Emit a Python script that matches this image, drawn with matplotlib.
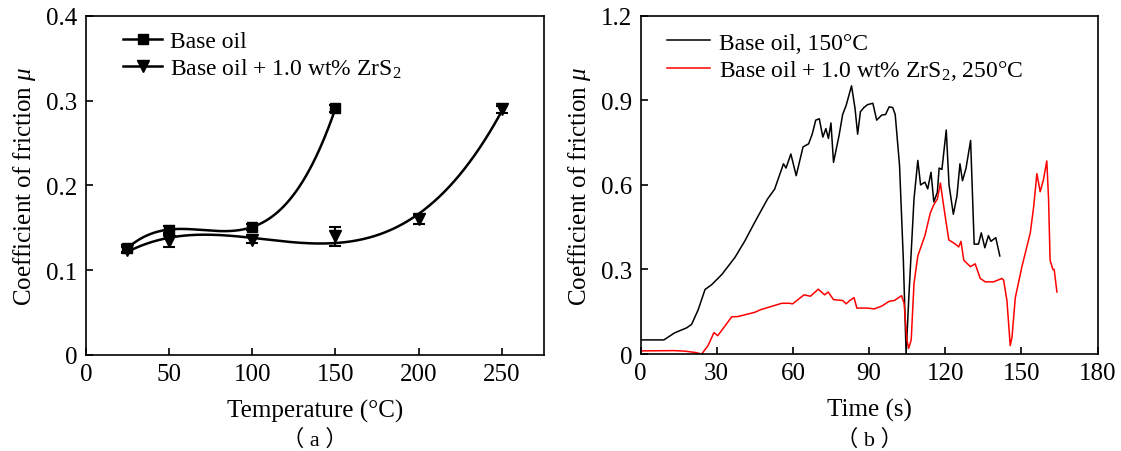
import numpy as np
import matplotlib
import matplotlib.pyplot as plt

matplotlib.use('Agg')

plt.rcParams['font.family'] = ['Liberation Serif', 'Noto Sans CJK SC']
plt.rcParams['mathtext.fontset'] = 'custom'
plt.rcParams['mathtext.rm'] = 'Liberation Serif'
plt.rcParams['mathtext.it'] = 'Liberation Serif:italic'

# (a) coefficient of friction vs temperature
temp_base = [25, 50, 100, 150]
mu_base = [0.126, 0.148, 0.151, 0.291]
err_base = [0.004, 0.004, 0.003, 0.004]

temp_zrs2 = [25, 50, 100, 150, 200, 250]
mu_zrs2 = [0.124, 0.135, 0.136, 0.140, 0.160, 0.290]
err_zrs2 = [0.004, 0.007, 0.004, 0.011, 0.005, 0.004]

# (b) friction traces over time
t_base = [0, 9.2, 13.4, 18.2, 20.1, 22.7, 25.4, 28, 32, 37.2, 41, 45, 50, 52.8,
          56.3, 57.3, 59.2, 61.3, 64, 66.2, 67.6, 69, 70.4, 71.8, 73, 74, 75, 76,
          78.2, 79.6, 81, 83.1, 84.5, 85.5, 86.6, 88, 89.4, 91.5, 93, 95, 96.5,
          97.9, 99.3, 100.3, 102, 103.5, 104.6, 105.6, 107.7, 109.2, 110.3, 112,
          113.1, 114.4, 115.5, 116.9, 117.6, 118.7, 120.4, 121.5, 123.2, 124.6,
          125.8, 126.8, 128.2, 130, 131.4, 133.1, 134.2, 135.6, 137, 138, 139.9,
          141.5]
mu_t_base = [0.05, 0.05, 0.075, 0.093, 0.105, 0.157, 0.229, 0.246, 0.282, 0.343,
             0.40, 0.468, 0.55, 0.585, 0.675, 0.66, 0.71, 0.633, 0.735, 0.746,
             0.78, 0.83, 0.835, 0.77, 0.80, 0.765, 0.82, 0.68, 0.776, 0.85, 0.883,
             0.952, 0.87, 0.78, 0.86, 0.875, 0.885, 0.89, 0.83, 0.848, 0.85, 0.877,
             0.875, 0.85, 0.67, 0.335, 0.0, 0.19, 0.55, 0.687, 0.60, 0.61, 0.586,
             0.645, 0.54, 0.574, 0.66, 0.655, 0.795, 0.60, 0.496, 0.56, 0.675,
             0.615, 0.66, 0.758, 0.39, 0.39, 0.43, 0.377, 0.42, 0.40, 0.413, 0.348]

t_zrs2 = [0, 13.4, 17.6, 21.8, 24.1, 26.6, 28.9, 30.4, 33.3, 35.9, 38.4, 45,
          47.2, 55.6, 58.5, 59.9, 62, 64.4, 66.9, 70, 72.5, 73.9, 76, 79.6, 81,
          82.4, 84.1, 85.2, 89.4, 92, 95, 97.9, 100, 102.8, 103.8, 104.9, 105.6,
          106.6, 107.7, 109.2, 112, 114.1, 115.5, 116.9, 118.1, 119.4, 121.4, 124,
          125.3, 126.2, 127.3, 129.9, 131.8, 133.8, 135.8, 139, 142.3, 143, 144.3,
          145.6, 146.3, 147.6, 150.2, 153.5, 154.8, 156.1, 157.4, 158.7, 160,
          160.7, 161.3, 162.4, 162.9, 164]
mu_t_zrs2 = [0.011, 0.012, 0.01, 0.005, 0.0, 0.03, 0.076, 0.065, 0.10, 0.132,
             0.133, 0.148, 0.157, 0.18, 0.18, 0.178, 0.193, 0.21, 0.205, 0.23,
             0.21, 0.22, 0.193, 0.19, 0.178, 0.19, 0.20, 0.163, 0.163, 0.16, 0.17,
             0.187, 0.19, 0.207, 0.18, 0.05, 0.02, 0.05, 0.25, 0.348, 0.42, 0.50,
             0.53, 0.55, 0.607, 0.524, 0.405, 0.39, 0.38, 0.40, 0.333, 0.31, 0.32,
             0.268, 0.256, 0.256, 0.268, 0.262, 0.19, 0.03, 0.06, 0.20, 0.31, 0.43,
             0.52, 0.64, 0.576, 0.62, 0.685, 0.55, 0.333, 0.30, 0.30, 0.22]

fig = plt.figure(figsize=(11.21, 4.52), dpi=100)
ax1 = fig.add_axes([0.0765, 0.2124, 0.4084, 0.75])
ax2 = fig.add_axes([0.5714, 0.2146, 0.4077, 0.748])

tick_fs = 18
label_fs = 18

for ax in (ax1, ax2):
    for s in ax.spines.values():
        s.set_linewidth(1.2)
    ax.tick_params(direction='in', length=5, width=1.2, labelsize=tick_fs,
                   top=False, right=False, pad=6)

# smooth trend curves through the measured points
xs_b = np.linspace(temp_base[0], temp_base[-1], 200)
fit_b = np.polyfit(temp_base, mu_base, 3)
xs_z = np.linspace(temp_zrs2[0], temp_zrs2[-1], 300)
fit_z = np.polyfit(temp_zrs2, mu_zrs2, 3)

c_b, = ax1.plot(xs_b, np.polyval(fit_b, xs_b), color='k', lw=1.8)
c_z, = ax1.plot(xs_z, np.polyval(fit_z, xs_z), color='k', lw=1.8)
p_b, = ax1.plot(temp_base, mu_base, 's', color='k', ms=7)
p_z, = ax1.plot(temp_zrs2, mu_zrs2, 'v', color='k', ms=8)
ax1.errorbar(temp_base, mu_base, yerr=err_base, fmt='none', ecolor='k',
             elinewidth=1.5, capsize=4, capthick=1.5)
ax1.errorbar(temp_zrs2, mu_zrs2, yerr=err_zrs2, fmt='none', ecolor='k',
             elinewidth=1.5, capsize=4, capthick=1.5)

ax1.set_xlim(0, 275)
ax1.set_ylim(0, 0.4)
ax1.set_xticks([0, 50, 100, 150, 200, 250])
ax1.set_yticks([0, 0.1, 0.2, 0.3, 0.4])
ax1.set_yticklabels(['0', '0.1', '0.2', '0.3', '0.4'])
ax1.set_xlabel('Temperature (°C)', fontsize=label_fs, labelpad=10)
ax1.set_ylabel(r'Coefficient of friction $\mathit{\mu}$', fontsize=label_fs, labelpad=6)
ax1.legend([(c_b, p_b), (c_z, p_z)],
           ['Base oil', 'Base oil + 1.0 wt% ZrS$_2$'],
           loc='upper left', bbox_to_anchor=(0.035, 1.02), frameon=False,
           fontsize=17, handlelength=1.65, handletextpad=0.35, labelspacing=0.2)
fig.text(0.0765 + 0.4084 / 2, 0.027, '（ a ）', ha='center', va='center', fontsize=16)

ax2.plot(t_base, mu_t_base, color='k', lw=1.1, label='Base oil, 150°C')
ax2.plot(t_zrs2, mu_t_zrs2, color='#ff0000', lw=1.1,
         label='Base oil + 1.0 wt% ZrS$_2$, 250°C')
ax2.set_xlim(0, 180)
ax2.set_ylim(0, 1.2)
ax2.set_xticks([0, 30, 60, 90, 120, 150, 180])
ax2.set_yticks([0, 0.3, 0.6, 0.9, 1.2])
ax2.set_yticklabels(['0', '0.3', '0.6', '0.9', '1.2'])
ax2.set_xlabel('Time (s)', fontsize=label_fs, labelpad=10)
ax2.set_ylabel(r'Coefficient of friction $\mathit{\mu}$', fontsize=label_fs, labelpad=6)
ax2.legend(loc='upper left', bbox_to_anchor=(0.012, 1.015), frameon=False,
           fontsize=17, handlelength=1.8, handletextpad=0.4, labelspacing=0.2)
fig.text(0.5714 + 0.4077 / 2, 0.027, '（ b ）', ha='center', va='center', fontsize=16)

fig.savefig('out.png', dpi=100)
